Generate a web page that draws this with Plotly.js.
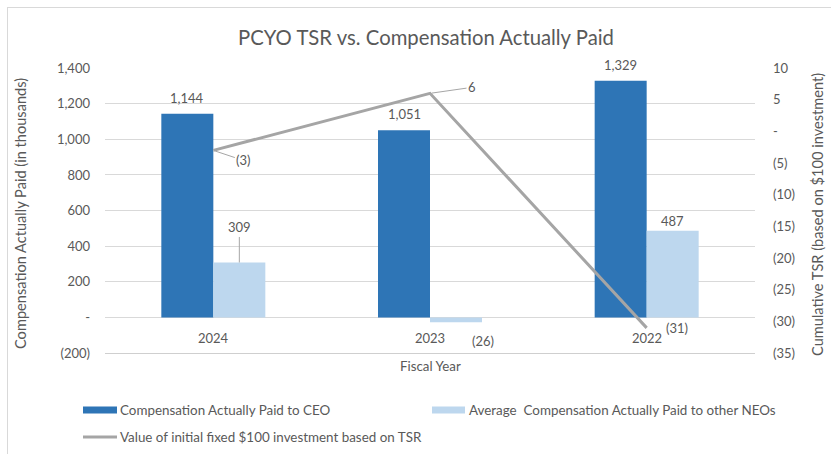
<!DOCTYPE html>
<html><head><meta charset="utf-8">
<script src="https://cdn.plot.ly/plotly-3.0.1.min.js"></script>
<style>
html,body{margin:0;padding:0;background:#fff;overflow:hidden;}
#chart{position:absolute;left:0;top:0;width:831px;height:454px;}
#frame{position:absolute;left:7px;top:7px;width:840px;height:470px;border-left:1px solid #d9d9d9;border-top:1px solid #d9d9d9;pointer-events:none;}
</style></head><body>
<div id="chart"></div><div id="frame"></div>
<script>
// ---- data ----
const fiscalYears = ['2024', '2023', '2022'];
const ceoCap = [1144, 1051, 1329];
const neoCap = [309, -26, 487];
const tsrValue = [-3, 6, -31];
const leftTickVals = [-200, 0, 200, 400, 600, 800, 1000, 1200, 1400];
const leftTickText = ['(200)', '-', '200', '400', '600', '800', '1,000', '1,200', '1,400'];
const rightTickVals = [-35, -30, -25, -20, -15, -10, -5, 0, 5, 10];
const rightTickText = ['(35)', '(30)', '(25)', '(20)', '(15)', '(10)', '(5)', '-', '5', '10'];
const seriesNames = ['Compensation Actually Paid to CEO', 'Average  Compensation Actually Paid to other NEOs', 'Value of initial fixed $100 investment based on TSR'];

// ---- style ----
const FONT = 'Lato, "Open Sans", sans-serif';
const TXT = '#595959';
const C_CEO = '#2e75b6', C_NEO = '#bdd7ee', C_TSR = '#a5a5a5', GRID = '#d9d9d9';
const W = 831, H = 454, ML = 105, MR = 76, MT = 68, MB = 99;
const PW = W - ML - MR, PH = H - MT - MB;
const px = x => (x - ML) / PW;
const py = y => (H - MB - y) / PH;
const BARGAP = 0.52;
const off = (1 - BARGAP) / 4;
const PAD = 10; // extra room below the lowest gridline

function fmt(v) {
  const s = Math.abs(v).toLocaleString('en-US');
  return v < 0 ? '(' + s + ')' : s;
}

const traces = [
  {type: 'bar', name: seriesNames[0], x: fiscalYears, y: ceoCap, marker: {color: C_CEO}, hoverinfo: 'skip'},
  {type: 'bar', name: seriesNames[1], x: fiscalYears, y: neoCap, marker: {color: C_NEO}, hoverinfo: 'skip'},
  {type: 'scatter', mode: 'lines', name: seriesNames[2], x: fiscalYears, y: tsrValue, yaxis: 'y2',
   line: {color: C_TSR, width: 3}, hoverinfo: 'skip'}
];

const ann = [];
const lf = {family: FONT, size: 13, color: TXT};
ceoCap.forEach((v, i) => ann.push({x: i - off, y: v, xref: 'x', yref: 'y', text: fmt(v), showarrow: false,
  xanchor: 'center', yanchor: 'bottom', yshift: 6, font: lf}));
const neoShift = [{ay: -35, arrow: true}, {xs: 27, ys: -19}, {ys: 0}];
neoCap.forEach((v, i) => {
  const s = neoShift[i];
  if (s.arrow) {
    ann.push({x: i + off, y: v, xref: 'x', yref: 'y', text: fmt(v), showarrow: true, arrowhead: 0,
      arrowcolor: '#a6a6a6', arrowwidth: 1, ax: 0, ay: s.ay, standoff: 0, font: lf});
  } else if (v < 0) {
    ann.push({x: i + off, y: v, xref: 'x', yref: 'y', text: fmt(v), showarrow: false,
      xanchor: 'center', yanchor: 'middle', xshift: s.xs, yshift: s.ys, font: lf});
  } else {
    ann.push({x: i + off, y: v, xref: 'x', yref: 'y', text: fmt(v), showarrow: false,
      xanchor: 'center', yanchor: 'bottom', yshift: s.ys, font: lf});
  }
});
const tsrPos = [{ax: 30, ay: 10, arrow: true}, {ax: 42, ay: -6, arrow: true}, {xs: 30, ys: 0}];
tsrValue.forEach((v, i) => {
  const s = tsrPos[i];
  if (s.arrow) {
    ann.push({x: i, y: v, xref: 'x', yref: 'y2', text: fmt(v), showarrow: true, arrowhead: 0,
      arrowcolor: '#a6a6a6', arrowwidth: 1, ax: s.ax, ay: s.ay, standoff: 2, font: lf});
  } else {
    ann.push({x: i, y: v, xref: 'x', yref: 'y2', text: fmt(v), showarrow: false,
      xanchor: 'center', yanchor: 'middle', xshift: s.xs, yshift: s.ys, font: lf});
  }
});
fiscalYears.forEach((c, i) => ann.push({x: i, y: 0, xref: 'x', yref: 'y', text: c, showarrow: false,
  xanchor: 'center', yanchor: 'top', yshift: -10, font: lf}));
function paperText(x, y, text, size, extra) {
  return Object.assign({xref: 'paper', yref: 'paper', x: px(x), y: py(y), text: text, showarrow: false,
    xanchor: 'center', yanchor: 'middle', font: {family: FONT, size: size, color: TXT}}, extra || {});
}
ann.push(paperText(20, 214, 'Compensation Actually Paid (in thousands)', 14.6, {textangle: -90}));
ann.push(paperText(817, 215, 'Cumulative TSR (based on $100 investment)', 14.6, {textangle: -90}));
ann.push(paperText(430, 366, 'Fiscal Year', 13.3));
ann.push(paperText(426, 37, 'PCYO TSR vs. Compensation Actually Paid', 20.3));
const legItems = [{x0: 83, x1: 117, y: 410, tx: 118}, {x0: 432, x1: 465, y: 410, tx: 467}, {x0: 83, x1: 117, y: 437, tx: 118}];
const shapes = [];
// lowest gridline, drawn explicitly on a whole pixel row
shapes.push({type: 'line', xref: 'paper', yref: 'paper', x0: 0, x1: 1, y0: py(353.5), y1: py(353.5),
  line: {color: '#cfcfcf', width: 1}, layer: 'above'});
legItems.forEach((it, i) => {
  if (i < 2) {
    shapes.push({type: 'rect', xref: 'paper', yref: 'paper', x0: px(it.x0), x1: px(it.x1), y0: py(it.y + 3.5), y1: py(it.y - 3.5),
      fillcolor: i === 0 ? C_CEO : C_NEO, line: {width: 0}});
  } else {
    shapes.push({type: 'line', xref: 'paper', yref: 'paper', x0: px(it.x0), x1: px(it.x1), y0: py(it.y), y1: py(it.y),
      line: {color: C_TSR, width: 3}});
  }
  ann.push(paperText(it.tx, it.y, seriesNames[i], 13.4, {xanchor: 'left'}));
});

const lMin = leftTickVals[0], lMax = leftTickVals[leftTickVals.length - 1];
const rMin = rightTickVals[0], rMax = rightTickVals[rightTickVals.length - 1];
const layout = {
  width: W, height: H,
  margin: {l: ML, r: MR, t: MT, b: MB, pad: 0},
  paper_bgcolor: '#fff', plot_bgcolor: '#fff',
  font: {family: FONT, color: TXT, size: 13},
  showlegend: false,
  barmode: 'group', bargap: BARGAP, bargroupgap: 0,
  xaxis: {type: 'category', showticklabels: false, showgrid: false, zeroline: false, showline: false, ticks: '',
    range: [-0.5, 2.5], fixedrange: true},
  yaxis: {range: [lMin - PAD, lMax], tickvals: leftTickVals, ticktext: leftTickText, showgrid: true, gridcolor: GRID,
    gridwidth: 1, zeroline: false, showline: false, ticks: '', ticklabelstandoff: 14,
    tickfont: {family: FONT, size: 13, color: TXT}},
  yaxis2: {range: [rMin - (rMax - rMin) * PAD / (lMax - lMin), rMax], overlaying: 'y', side: 'right',
    tickvals: rightTickVals, ticktext: rightTickText,
    showgrid: false, zeroline: false, showline: false, ticks: '', ticklabelstandoff: 17,
    tickfont: {family: FONT, size: 13, color: TXT}},
  annotations: ann,
  shapes: shapes
};

Plotly.newPlot('chart', traces, layout, {displayModeBar: false, staticPlot: true});
</script>
</body></html>
